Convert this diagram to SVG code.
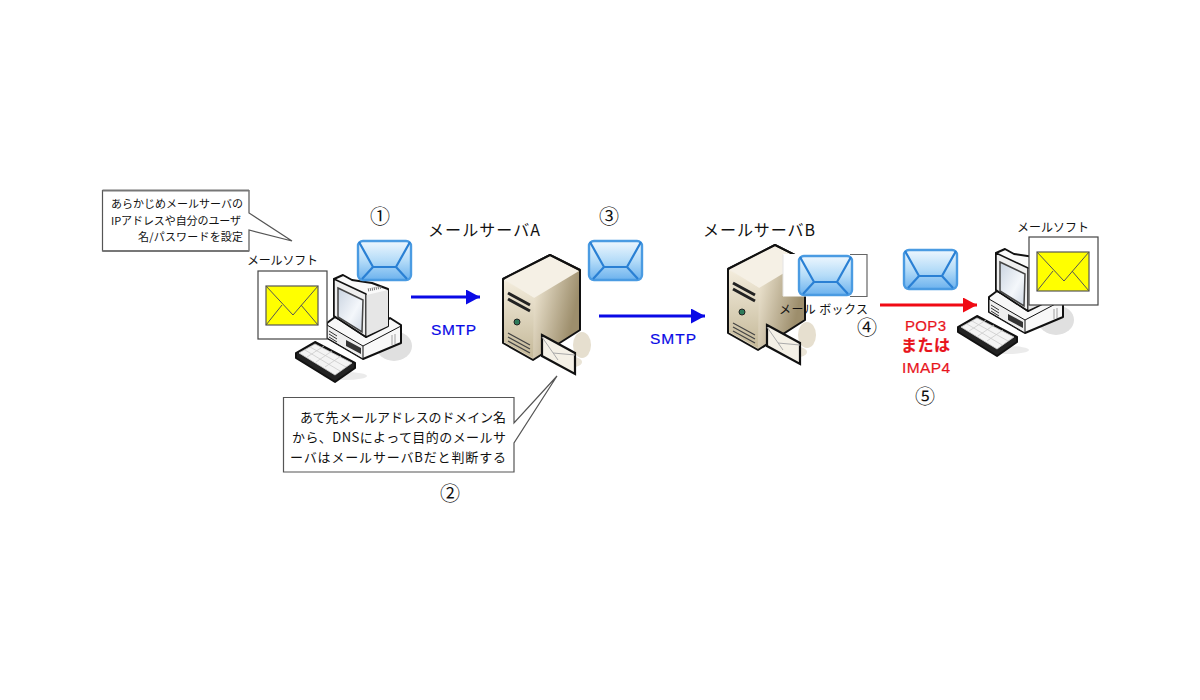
<svg xmlns="http://www.w3.org/2000/svg" xmlns:xlink="http://www.w3.org/1999/xlink" width="1200" height="700" viewBox="0 0 1200 700">
<style>
text{font-family:"Noto Sans CJK JP","Liberation Sans",sans-serif;fill:#111;dominant-baseline:central}
.lat{font-family:"Liberation Sans","Noto Sans CJK JP",sans-serif}
.co{fill:#fff;stroke:#555;stroke-width:1.2}
.blue{fill:#0a0ae6;font-size:15.500px;font-family:"Liberation Sans",sans-serif;stroke:#0a0ae6;stroke-width:.2}
.red{fill:#e8141c;stroke:#e8141c;stroke-width:.2}
.num{font-size:20px}
.cl{font-size:11px}
.cm{font-size:13px}
.env{fill:none;stroke:#2a80d4;stroke-width:2.2}
.k{stroke:#111;stroke-width:2;stroke-linejoin:round}
</style>
<defs>
<linearGradient id="bl" x1="0.5" y1="0" x2="0.5" y2="1"><stop offset="0" stop-color="#eef7fe"/><stop offset=".5" stop-color="#b5dcf8"/><stop offset="1" stop-color="#6cb2ee"/></linearGradient>
<linearGradient id="srv" x1="0" y1="0" x2="1" y2="0.3"><stop offset="0" stop-color="#f8f4ea"/><stop offset=".5" stop-color="#e6ddc8"/><stop offset="1" stop-color="#9d8e6c"/></linearGradient>
<linearGradient id="srvf" x1="0" y1="0" x2="0" y2="1"><stop offset="0" stop-color="#f3ecdc"/><stop offset="1" stop-color="#c4b898"/></linearGradient>
<linearGradient id="scr" x1="0" y1="0" x2="1" y2="1"><stop offset="0" stop-color="#c9d3e0"/><stop offset=".6" stop-color="#f4f7fb"/><stop offset="1" stop-color="#cfd8e4"/></linearGradient>
<marker id="ab" markerUnits="userSpaceOnUse" markerWidth="15" markerHeight="16" refX="14" refY="7.5" orient="auto"><path d="M0 0L14 7.500L0 15z" fill="#0a0ae6"/></marker>
<marker id="ar" markerUnits="userSpaceOnUse" markerWidth="15" markerHeight="16" refX="14" refY="7.5" orient="auto"><path d="M0 0L14 7.500L0 15z" fill="#f00a14"/></marker>
<g id="mail">
<rect x="1" y="1" width="53" height="39" rx="5" fill="url(#bl)" stroke="#4a9be2" stroke-width="2.4"/>
<path class="env" d="M2 2L16 27H39L53 2M16 27L5 39M39 27L50 39"/>
</g>
<g id="ymail">
<rect x="0" y="0" width="69" height="68" fill="#fff" stroke="#444" stroke-width="1.2"/>
<rect x="8" y="15" width="52" height="39" fill="#ff0" stroke="#555" stroke-width="1.2"/>
<path d="M8 15L35 44L60 15M8 54L24 34M60 54L43 34" fill="none" stroke="#555" stroke-width="1"/>
</g>
<g id="pc">
<ellipse cx="394" cy="346" rx="18" ry="15" fill="#e0e0e0"/>
<ellipse cx="345" cy="376" rx="22" ry="4" fill="#ebebeb"/>
<path class="k" d="M327 323L335 317L370 334L390 318L401 325V343L363 359L327 338z" fill="#f8f8f8"/>
<path d="M327 325L363 346V359L327 338zM363 346L401 326" fill="#eee" stroke="#111"/>
<path d="M329 331L337 336M329 334L337 339M329 337L337 342" stroke="#333"/>
<path d="M346 340L361 348V354L346 346z" fill="#333"/>
<path d="M392 335V345M395 334V344" stroke="#ccc" stroke-width="2"/>
<path class="k" d="M334 279L343 275L352 280L372 283L388 289V326L366 337L334 316z" fill="#fafafa"/>
<path d="M334 279L366 294V337L334 316z" fill="#efefef" stroke="#111" stroke-width="1.5" stroke-linejoin="round"/>
<path d="M366.500 295L388 290V326L366.500 336z" fill="#e6e6e6"/>
<path d="M338 288L363 300L362 332L338 317z" fill="url(#scr)" stroke="#444" stroke-width="1.5"/>
<path d="M368 290L382 287" stroke="#777" stroke-width="3" stroke-dasharray="1 1"/>
<path d="M296 353V358L335 382L355 368V363L315 342z" fill="#222" class="k"/>
<path d="M299 353L315 344L352 363L335 375z" fill="#f4f4f4" stroke="#ccc" stroke-width=".8"/>
<path d="M305 350L340 371M310 347L346 367M307 357L324 346M316 362L332 351M325 367L341 356" stroke="#ccc" stroke-width=".8" fill="none"/>
</g>
<g id="srvr">
<ellipse cx="582" cy="345" rx="9" ry="13" fill="#e6dfcf"/>
<ellipse cx="568" cy="362" rx="14" ry="6" fill="#eae4d6"/>
<path d="M503 279L550 255L580 270V330L533 360L503 343z" fill="url(#srv)" class="k"/>
<path d="M504 279L550 256L579 271L534 298z" fill="#f5f0e5"/>
<path d="M504 280L534 298L533 358L504 342z" fill="url(#srvf)"/>
<path d="M503 279L550 255L580 270" fill="none" class="k"/>
<path d="M508 293L530 305M508 299L530 311" stroke="#222" stroke-width="3"/>
<circle cx="517" cy="322" r="3" fill="#2d7a5a" stroke="#222"/>
<path d="M508 333L530 345M508 337L530 349M508 341L530 353" stroke="#444" stroke-width="1.2"/>
<path d="M542 335L575 353V374L542 356z" fill="#f4f0e6" stroke="#111" stroke-width="2.2"/>
<path d="M542 337L558 360M575 355L553 353" stroke="#aaa" fill="none"/>
</g>
</defs>

<g id="connectors">
<line x1="411" y1="297" x2="480" y2="297" stroke="#0a0ae6" stroke-width="3" marker-end="url(#ab)"/>
<line x1="599" y1="316" x2="705" y2="316" stroke="#0a0ae6" stroke-width="3" marker-end="url(#ab)"/>
<line x1="880" y1="305" x2="977" y2="305" stroke="#f00a14" stroke-width="3" marker-end="url(#ar)"/>
</g>

<g id="pc-a"><use href="#pc"/></g>
<g id="soft-a"><use href="#ymail" x="258" y="271"/><text x="247" y="259" font-size="12" textLength="71">メールソフト</text></g>
<g id="pc-b"><use href="#pc" x="662" y="-26"/></g>
<g id="soft-b"><use href="#ymail" x="1029" y="237"/><text x="1017" y="226" font-size="12" textLength="72">メールソフト</text></g>
<g id="server-a"><use href="#srvr"/><text x="428" y="229" font-size="16" textLength="112">メールサーバA</text></g>
<g id="server-b"><use href="#srvr" x="225" y="-10"/><text x="703" y="229" font-size="16" textLength="112">メールサーバB</text></g>
<g id="mailbox">
<rect x="783" y="254" width="84" height="42.5" fill="#fff"/>
<path d="M850 254.500H867V296.500H850" fill="none" stroke="#666" stroke-width="1.2"/>
<path d="M783 254.500V296" stroke="#e4e4e4"/>
<use href="#mail" x="798" y="255"/>
<text x="779" y="308" font-size="12" textLength="89">メール ボックス</text>
</g>
<g id="mail-1"><use href="#mail" x="357" y="240"/></g>
<g id="mail-3"><use href="#mail" x="588" y="240"/></g>
<g id="mail-5"><use href="#mail" x="903" y="249"/></g>

<g id="callout-1">
<path class="co" d="M102.500 190.500H249V213L292 241L249 230V251H102.500z"/>
<path d="M102.500 190.500H249M102.500 251H249" stroke="#777" stroke-width="2" fill="none"/>
<text class="cl" x="111" y="203" textLength="132">あらかじめメールサーバの</text>
<text class="cl" x="111" y="220" textLength="130">IPアドレスや自分のユーザ</text>
<text class="cl" x="138" y="236" textLength="105">名/パスワードを設定</text>
</g>
<g id="callout-2">
<path class="co" d="M283.500 397.500H514V423L557 376L514 443V472H283.500z"/>
<text class="cm" x="300" y="416" textLength="206">あて先メールアドレスのドメイン名</text>
<text class="cm" x="292" y="436" textLength="214">から、DNSによって目的のメールサ</text>
<text class="cm" x="290" y="456" textLength="216">ーバはメールサーバBだと判断する</text>
</g>

<g id="labels">
<text class="blue" x="431" y="329" textLength="45">SMTP</text>
<text class="blue" x="650" y="338" textLength="46">SMTP</text>
<text class="red lat" x="905" y="325" font-size="15" textLength="41">POP3</text>
<text class="red" x="901" y="344" font-size="16" textLength="49" font-weight="700">または</text>
<text class="red lat" x="902" y="367" font-size="15.500" textLength="48">IMAP4</text>
<text class="num" x="380" y="215" text-anchor="middle">①</text>
<text class="num" x="450" y="492" text-anchor="middle">②</text>
<text class="num" x="609" y="215" text-anchor="middle">③</text>
<text class="num" x="867" y="326" text-anchor="middle">④</text>
<text class="num" x="925" y="395" text-anchor="middle">⑤</text>
</g>
</svg>
